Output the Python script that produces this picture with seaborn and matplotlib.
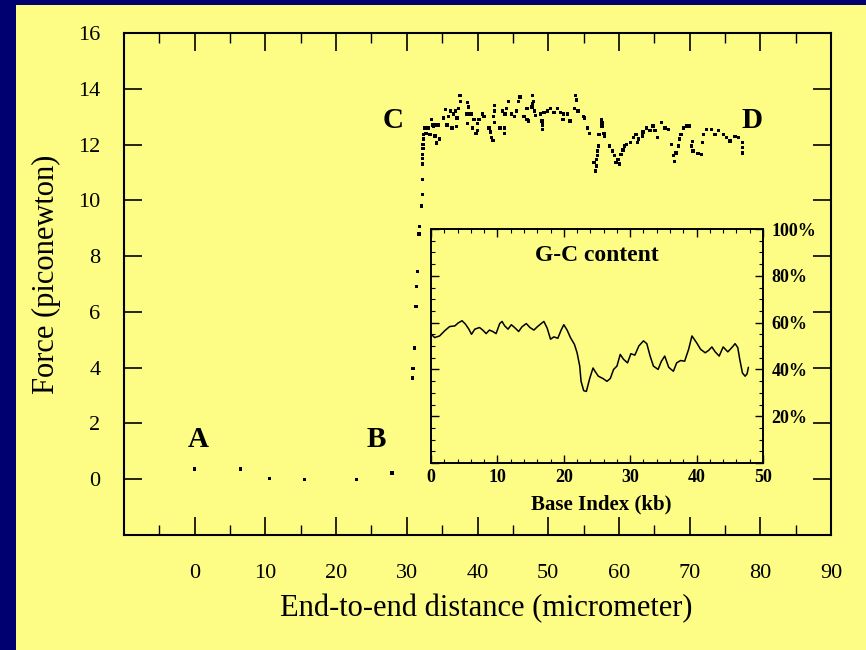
import matplotlib
matplotlib.use("Agg")
import matplotlib.pyplot as plt
from matplotlib.patches import Rectangle
from matplotlib.ticker import MultipleLocator, FuncFormatter
import pandas as pd
import seaborn as sns

# ---- force-extension trace (micrometer, piconewton) ----
low_x = [0.0, 6.5, 10.6, 15.5, 22.9, 27.9]
low_y = [0.36, 0.36, 0.03, 0.0, 0.0, 0.23]

rise_x = [30.8, 30.9, 31.1, 31.3, 31.4, 31.5, 31.7, 31.8, 32.1, 32.2, 32.2,
          32.25, 32.25, 32.25, 32.3, 32.3, 32.35, 32.4]
rise_y = [3.63, 3.96, 4.7, 6.2, 6.9, 7.45, 8.8, 9.06, 9.8, 10.2, 10.75,
          11.3, 11.5, 11.65, 11.85, 12.0, 12.2, 12.37]

plat1_x = [32.6, 33.1, 33.8, 34.5, 32.7, 33.3, 34.0, 34.6, 34.2, 33.5, 33.7, 34.2,
           35.2, 35.9, 36.6, 37.1, 35.5, 36.2, 36.9, 37.3, 35.7, 36.4, 37.0,
           37.5, 37.6, 38.6, 38.7, 38.5, 39.1, 38.6, 39.5, 40.2, 40.0, 39.3, 40.0, 39.8,
           40.9, 40.7, 41.6, 41.8, 42.0, 42.2, 42.4, 42.4, 42.3, 42.4,
           43.2, 43.8, 43.8, 43.5, 43.9, 44.1, 44.8, 45.2, 45.5, 44.4, 45.8, 46.0,
           46.6, 47.0, 47.2, 47.0, 47.7, 47.8, 47.9, 47.8, 48.1, 48.2,
           48.9, 49.4, 49.9, 50.3, 50.8, 51.3, 51.7, 52.2, 52.7, 49.1, 49.2, 49.2,
           52.1, 53.1, 53.9, 54.0, 53.7, 54.2, 55.0]
plat1_y = [12.6, 12.6, 12.65, 12.7, 12.4, 12.35, 12.3, 12.2, 12.05, 12.9, 12.7, 12.7,
           12.95, 13.0, 13.1, 12.95, 13.25, 13.2, 13.2, 13.3, 12.7, 12.6, 12.65,
           13.75, 13.55, 13.5, 13.35, 13.1, 13.1, 12.75, 12.9, 12.9, 12.75, 12.6, 12.5, 12.4,
           13.0, 13.1, 12.6, 12.45, 12.25, 12.15, 13.4, 13.2, 13.0, 12.8,
           12.6, 12.6, 12.4, 13.2, 13.1, 13.3, 13.1, 13.0, 13.2, 13.55, 13.55, 13.7,
           13.0, 12.9, 12.85, 13.3, 13.35, 13.75, 13.55, 13.45, 13.2, 13.05,
           13.1, 13.15, 13.2, 13.3, 13.15, 13.3, 13.15, 13.1, 13.1, 12.85, 12.7, 12.55,
           12.9, 12.85, 13.75, 13.6, 13.3, 13.2, 13.0]

plat2_x = [55.1, 55.6, 55.8, 57.5, 57.6, 57.6, 57.2, 57.1, 57.0, 57.0, 56.8, 56.5, 56.8, 56.7,
           58.0, 57.9, 58.7, 59.1, 59.4, 59.9, 60.1, 59.6,
           60.3, 60.6, 60.8, 61.1, 61.6, 62.1, 62.4, 62.8, 63.3, 62.6,
           63.4, 63.9, 64.4, 64.8, 65.1, 65.5, 66.0, 66.5, 67.0,
           67.4, 67.7, 67.9, 68.1, 68.4, 68.6, 68.8, 69.1, 69.6, 69.9,
           70.3, 70.5, 71.2, 71.7, 70.4,
           71.8, 72.0, 72.4, 73.1, 73.6, 74.1, 74.8, 75.2, 75.7, 76.4, 76.9,
           77.5, 77.5, 77.5]
plat2_y = [12.95, 12.6, 12.4, 12.9, 12.8, 12.67, 12.37, 11.95, 11.77, 11.6, 11.47, 11.36, 11.23, 11.05,
           12.3, 12.4, 11.95, 11.77, 11.6, 11.47, 11.3, 11.36,
           11.65, 11.8, 11.95, 12.0, 12.07, 12.25, 12.37, 12.2, 12.3, 12.07,
           12.45, 12.6, 12.5, 12.67, 12.5, 12.25, 12.8, 12.6, 12.55,
           12.0, 11.6, 11.4, 11.7, 11.95, 12.2, 12.37, 12.6, 12.67, 12.67,
           11.95, 11.77, 11.68, 11.65, 12.1,
           12.07, 12.37, 12.55, 12.55, 12.37, 12.5, 12.37, 12.25, 12.13, 12.28, 12.25,
           12.07, 11.9, 11.7]

# ---- G-C content along the sequence (kb, percent) ----
gc_kb = [0.05, 0.55, 1.3, 2.06, 2.8, 3.6, 4.07, 4.67, 5.2, 5.7, 6.1, 6.6, 7.3, 7.8,
         8.3, 8.8, 9.3, 9.8, 10.35, 10.7, 11.1, 11.6, 12.1, 12.7, 13.2, 13.7, 14.35,
         14.9, 15.5, 16.0, 16.6, 17.0, 17.5, 18.0, 18.5, 19.1, 19.6, 20.0, 20.5, 21.0,
         21.6, 22.0, 22.4, 22.6, 23.0, 23.4, 23.9, 24.4, 24.7, 25.2, 25.9, 26.5, 27.0,
         27.5, 28.0, 28.5, 29.0, 29.6, 30.1, 30.7, 31.3, 32.0, 32.5, 33.0, 33.5, 34.2,
         34.7, 35.2, 35.8, 36.5, 37.0, 37.6, 38.2, 38.8, 39.3, 40.0, 40.6, 41.3, 41.8,
         42.3, 42.8, 43.4, 44.0, 44.7, 45.3, 45.8, 46.2, 46.5, 46.9, 47.3, 47.6, 47.8]
gc_pct = [55.0, 53.6, 54.3, 56.5, 58.3, 58.6, 59.8, 60.8, 59.3, 57.2, 55.0, 57.2, 57.9, 56.8,
          55.3, 56.8, 56.2, 55.3, 59.6, 60.5, 58.6, 57.2, 59.1, 57.6, 56.2, 58.2, 59.6,
          57.9, 56.8, 58.2, 59.6, 60.5, 57.6, 52.9, 53.9, 53.3, 56.8, 59.1, 56.8, 53.6,
          50.7, 47.1, 41.4, 34.9, 30.9, 30.6, 36.1, 40.6, 39.2, 37.1, 36.1, 34.9, 36.1,
          40.0, 41.4, 46.4, 44.3, 42.8, 46.7, 46.1, 50.0, 52.2, 51.0, 45.7, 41.4, 40.0,
          43.5, 45.7, 40.9, 39.2, 42.8, 43.8, 43.5, 48.6, 54.3, 51.4, 48.6, 47.1, 48.1,
          49.6, 47.5, 45.7, 49.6, 47.5, 49.3, 51.0, 49.3, 44.3, 38.5, 37.1, 38.1, 40.9]

x_ticks = list(range(-10, 91, 10))
y_ticks = list(range(0, 17, 2))
gc_ticks = [0, 20, 40, 60, 80, 100]
point_labels = ["A", "B", "C", "D"]
label_x = [0.5, 25.7, 28.1, 78.8]
label_y = [1.17, 1.17, 12.6, 12.6]

NAVY = "#000070"
PANEL = "#fdfd86"
INK = "black"
W, H = 866, 650

sns.set_style("ticks")
plt.rcParams["font.family"] = ["Liberation Serif", "DejaVu Serif"]
plt.rcParams.update({
    "axes.edgecolor": INK, "axes.labelcolor": INK, "text.color": INK,
    "xtick.color": INK, "ytick.color": INK,
    "xtick.labelcolor": INK, "ytick.labelcolor": INK,
})

force = pd.DataFrame({
    "distance": low_x + rise_x + plat1_x + plat2_x,
    "force": low_y + rise_y + plat1_y + plat2_y,
})
gc = pd.DataFrame({"kb": gc_kb, "pct": gc_pct})

fig = plt.figure(figsize=(W / 100, H / 100), dpi=100, facecolor=NAVY)
fig.add_artist(Rectangle((16 / W, 0), 1 - 16 / W, 1 - 5 / H,
                         transform=fig.transFigure, facecolor=PANEL,
                         edgecolor="none", zorder=0))

# main force-extension panel
ax = fig.add_axes([124 / W, 1 - 535 / H, 707 / W, 502 / H])
ax.set_facecolor(PANEL)
sns.scatterplot(data=force, x="distance", y="force", ax=ax, marker="s", s=6,
                color=INK, edgecolor="none", linewidth=0, legend=False)
ax.set_xlim(-10, 90)
ax.set_ylim(-2, 16)
ax.set_xticks(x_ticks)
ax.xaxis.set_major_formatter(FuncFormatter(lambda v, p: "" if v < 0 else f"{v:g}"))
ax.xaxis.set_minor_locator(MultipleLocator(5))
ax.set_yticks(y_ticks)
ax.tick_params(which="major", direction="in", top=True, right=True,
               length=13, width=1.2, labelsize=16)
ax.tick_params(which="minor", direction="in", top=True, right=False,
               length=7, width=1.0)
ax.tick_params(axis="x", which="major", pad=21)
ax.tick_params(axis="y", which="major", pad=17)
for s in ax.spines.values():
    s.set_linewidth(1.5)
ax.set_xlabel("End-to-end distance (micrometer)", fontsize=22)
ax.set_ylabel("Force (piconewton)", fontsize=22)
ax.xaxis.set_label_coords(0.512, -0.1175)
ax.yaxis.set_label_coords(-0.089, 0.52)
for t, lx, ly in zip(point_labels, label_x, label_y):
    ax.text(lx, ly, t, fontsize=21, fontweight="bold", ha="center", va="baseline")

# inset: G-C content
ins = fig.add_axes([431 / W, 1 - 463 / H, 332 / W, 234 / H])
ins.set_facecolor(PANEL)
sns.lineplot(data=gc, x="kb", y="pct", ax=ins, color=INK, linewidth=1.1)
ins.set_xlim(0, 50)
ins.set_ylim(0, 100)
ins.xaxis.set_major_locator(MultipleLocator(10))
ins.xaxis.set_minor_locator(MultipleLocator(2))
ins.set_yticks(gc_ticks)
ins.yaxis.set_major_formatter(FuncFormatter(lambda v, p: "" if v == 0 else f"{v:g}%"))
ins.yaxis.set_minor_locator(MultipleLocator(5))
ins.tick_params(which="both", direction="in", top=True, right=True, left=True,
                labelleft=False, labelright=True)
ins.tick_params(which="major", length=6, width=1.0, labelsize=13)
ins.tick_params(which="minor", length=3, width=0.8)
ins.tick_params(axis="x", which="major", pad=4)
ins.tick_params(axis="y", which="major", pad=6)
for lab in ins.get_xticklabels() + ins.get_yticklabels():
    lab.set_fontweight("bold")
for s in ins.spines.values():
    s.set_linewidth(1.4)
ins.set_xlabel("Base Index (kb)", fontsize=15, fontweight="bold")
ins.set_ylabel("")
ins.xaxis.set_label_coords(0.514, -0.135)
ins.text(0.5, 0.885, "G-C content", transform=ins.transAxes, fontsize=17,
         fontweight="bold", ha="center", va="center")

fig.savefig("out.png", dpi=100, facecolor=NAVY)
